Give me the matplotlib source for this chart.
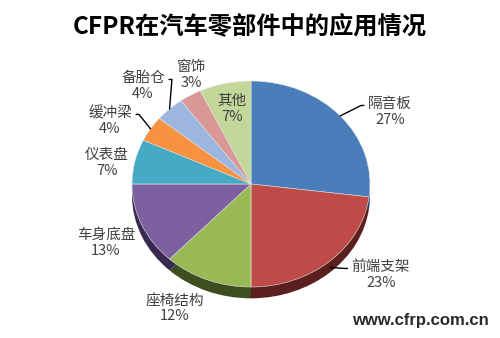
import matplotlib
matplotlib.use('Agg')
import numpy as np
import matplotlib.pyplot as plt

plt.rcParams['font.family'] = ['Noto Sans CJK SC', 'DejaVu Sans']

# data
parts = ['隔音板', '前端支架', '座椅结构', '车身底盘', '仪表盘', '缓冲梁', '备胎仓', '窗饰', '其他']
shares = [27, 23, 12, 13, 7, 4, 4, 3, 7]

colors = ['#4A7EBB', '#BE4B48', '#98B954', '#7D60A0', '#46AAC5', '#F69240',
          '#9DB6DF', '#D99796', '#C4D79B']
side_colors = ['#23406A', '#5B1F1E', '#3E4E20', '#3A2A50', '#1F5A6A', '#7A4415',
               '#4A5C7A', '#6A3E3E', '#5A6A40']

# label centres in pixels from the top-left, and which ones get leader lines
label_pos = [(390, 112), (381, 275), (175, 308), (106, 243), (107, 163),
             (110, 121), (143, 86), (191, 75), (232, 109)]
leaders = [True, True, False, False, False, True, True, False, False]

W, H = 500, 338
fig = plt.figure(figsize=(W / 100, H / 100), dpi=100)

# pie ellipse: centre (251, 184), rx 119, ry 103 px
cx, cy, rx, ry = 251, 184, 119, 103
ax = fig.add_axes([(cx - rx) / W, (H - cy - ry) / H, 2 * rx / W, 2 * ry / H])

# side of the 3d pie: a darker copy shifted down
side, _ = ax.pie(shares, colors=side_colors, startangle=90, counterclock=False,
                 center=(0, -0.11), radius=1, frame=True,
                 wedgeprops=dict(linewidth=0))
top, _ = ax.pie(shares, colors=colors, startangle=90, counterclock=False,
                radius=1, frame=True,
                wedgeprops=dict(linewidth=0.4, edgecolor='#E8E8E8'))
for w in side:
    w.set_zorder(1)
for w in top:
    w.set_zorder(2)
ax.set_aspect('auto')
ax.set_xlim(-1, 1)
ax.set_ylim(-1, 1)
ax.axis('off')

for w, name, s, (lx, ly), lead in zip(top, parts, shares, label_pos, leaders):
    txt = f'{name}\n{s}%'
    xy_text = (lx, H - ly)
    if lead:
        mid = np.deg2rad((w.theta1 + w.theta2) / 2)
        px, py = np.cos(mid), np.sin(mid)
        if py < 0:
            py -= 0.06
        right = lx > cx
        relx = 0 if right else 1
        angA = 180 if right else 0
        ax.annotate(txt, xy=(px, py), xytext=xy_text, textcoords='figure pixels',
                    ha='center', va='center', fontsize=10.5, color='#404040',
                    linespacing=1.15, zorder=5, annotation_clip=False,
                    arrowprops=dict(arrowstyle='-', color='black', lw=1.0,
                                    relpos=(relx, 0.72), shrinkA=1, shrinkB=0,
                                    connectionstyle=f'arc,angleA={angA},armA=7,'
                                                    f'angleB=0,armB=0,rad=0'))
    else:
        fig.text(lx / W, 1 - ly / H, txt, ha='center', va='center', fontsize=10.5,
                 color='#404040', linespacing=1.15)

fig.text(0.5, 1 - 27 / H, 'CFPR在汽车零部件中的应用情况', ha='center', va='center',
         fontsize=17.5, fontweight='bold', color='black')

fig.text(352 / W, 1 - 320 / H, 'www.cfrp.com.cn', ha='left', va='center',
         fontsize=12, fontweight='bold', color='#2A2A2A',
         family=['Liberation Sans', 'DejaVu Sans'])

fig.savefig('out.png', dpi=100)
